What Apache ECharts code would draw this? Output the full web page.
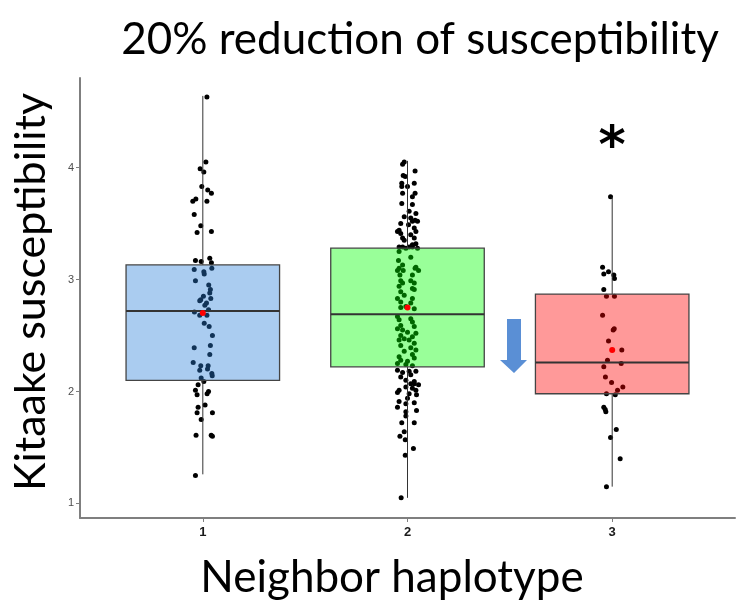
<!DOCTYPE html>
<html>
<head>
<meta charset="utf-8">
<script src="https://cdn.jsdelivr.net/npm/echarts@6/dist/echarts.min.js"></script>
<style>html,body{margin:0;padding:0;background:#fff}#c{width:741px;height:606px}</style>
</head>
<body>
<div id="c"></div>
<script>
// ---------- data ----------
const categories = ['1', '2', '3'];
const titleText = '20% reduction of susceptibility';
const yAxisTitle = 'Kitaake susceptibility';
const xAxisTitle = 'Neighbor haplotype';
const yTicks = [1, 2, 3, 4];

// box statistics per category
const whiskerLow  = [1.26, 1.05, 1.15];
const q1          = [2.10, 2.22, 1.98];
const median      = [2.72, 2.69, 2.26];
const q3          = [3.13, 3.28, 2.87];
const whiskerHigh = [4.64, 4.06, 3.74];
const means       = [2.70, 2.75, 2.37];

// jittered observations (value, horizontal jitter offset)
const g1Values = [4.63,4.05,3.99,3.96,3.83,3.80,3.77,3.70,3.72,3.70,3.58,3.48,3.42,3.43,3.17,3.16,3.19,3.15,3.09,3.07,3.10,2.99,3.05,2.95,2.91,2.88,2.85,2.83,2.82,2.81,2.79,2.77,2.73,2.71,2.68,2.68,2.61,2.58,2.50,2.41,2.39,2.33,2.26,2.23,2.23,2.19,2.20,2.16,2.14,2.12,2.09,2.06,2.01,2.00,1.97,1.98,1.88,1.86,1.81,1.81,1.75,1.61,1.61,1.60,1.25];
const g1Jitter = [0.020,0.015,-0.013,0.005,-0.005,0.024,0.042,-0.049,-0.034,0.020,-0.042,-0.010,-0.028,0.042,-0.036,-0.008,0.034,0.042,-0.042,0.005,0.044,-0.036,0.007,0.029,0.037,0.034,0.003,0.039,-0.010,-0.015,0.018,0.010,0.028,-0.041,-0.015,0.020,0.007,0.031,0.047,0.037,-0.042,0.034,-0.047,-0.010,0.026,-0.015,0.023,0.044,0.046,-0.008,0.005,-0.023,-0.036,0.028,-0.028,0.021,0.011,-0.023,-0.028,0.047,-0.008,-0.033,0.041,0.047,-0.036];

const g2Values = [4.05,4.03,3.97,3.93,3.92,3.86,3.86,3.83,3.83,3.77,3.77,3.74,3.68,3.67,3.59,3.61,3.56,3.55,3.53,3.52,3.50,3.52,3.49,3.44,3.46,3.43,3.41,3.43,3.40,3.37,3.35,3.37,3.32,3.31,3.29,3.29,3.29,3.28,3.28,3.29,3.25,3.20,3.17,3.13,3.11,3.10,
  3.08,3.08,3.10,3.08,3.04,3.04,2.99,2.99,2.97,2.97,2.94,2.92,2.89,2.86,2.91,2.83,2.83,2.80,2.79,2.76,2.75,2.74,2.67,2.64,2.65,2.62,2.59,2.58,2.56,2.55,2.53,2.50,2.52,2.49,2.47,2.46,2.46,2.43,2.41,2.39,2.37,2.36,2.31,2.33,2.28,2.27,2.30,2.25,2.24,2.23,2.19,2.17,2.18,2.18,2.13,2.15,2.10,2.09,
  2.04,2.07,2.07,2.06,2.03,2.01,2.01,1.99,1.98,1.97,1.94,1.91,1.90,1.89,1.86,1.83,1.82,1.78,1.72,1.72,1.64,1.60,1.57,1.49,1.43,1.05];
const g2Jitter = [-0.016,-0.024,0.037,-0.021,-0.011,-0.028,0.033,0.000,-0.028,-0.024,0.037,0.024,-0.028,0.024,0.041,0.008,-0.016,0.016,0.037,0.049,-0.033,0.024,0.005,-0.041,0.033,-0.049,-0.033,0.041,0.016,-0.024,-0.016,0.033,0.041,0.024,-0.041,0.008,-0.024,-0.008,0.049,0.024,-0.041,0.016,-0.044,-0.024,0.041,-0.041,
  -0.049,-0.021,0.037,0.054,-0.037,0.024,-0.033,0.016,0.033,-0.024,-0.041,0.024,-0.033,-0.016,0.033,-0.049,0.024,-0.033,0.016,-0.008,-0.033,0.033,-0.049,-0.041,0.016,0.024,-0.033,0.033,-0.049,-0.024,0.000,-0.033,0.041,0.024,-0.016,-0.041,0.008,0.033,-0.033,0.016,0.041,-0.016,-0.041,0.024,-0.033,0.000,0.033,-0.049,-0.008,0.024,-0.049,-0.024,0.008,0.041,-0.033,0.016,-0.008,0.033,
  -0.008,0.016,0.033,0.054,0.024,0.041,-0.041,-0.049,0.008,0.044,0.000,-0.041,0.033,-0.008,-0.049,0.044,-0.008,-0.008,-0.028,0.033,-0.016,-0.037,-0.011,0.029,-0.011,-0.031];

const g3Values = [3.74,3.11,3.07,3.05,3.04,3.01,2.91,2.85,2.85,2.68,2.56,2.55,2.45,2.37,2.28,2.25,2.22,2.13,2.08,2.04,2.01,1.98,1.97,1.86,1.82,1.84,1.66,1.59,1.40,1.15];
const g3Jitter = [-0.008,-0.047,-0.018,-0.041,0.008,0.011,-0.041,-0.028,0.011,-0.047,0.010,0.005,-0.018,0.047,-0.023,0.044,-0.041,-0.033,-0.003,0.052,0.026,-0.028,0.015,-0.041,-0.031,-0.034,0.020,-0.008,0.039,-0.028];

// ---------- build ----------
const groups = [[g1Values, g1Jitter], [g2Values, g2Jitter], [g3Values, g3Jitter]];
const pointData = [];
groups.forEach(function (g, i) {
  g[0].forEach(function (v, k) { pointData.push([i + 1 + g[1][k], v]); });
});
const boxData = categories.map(function (c, i) {
  return [i + 1, whiskerLow[i], q1[i], median[i], q3[i], whiskerHigh[i]];
});
const meanData = categories.map(function (c, i) { return [i + 1, means[i]]; });
const boxFill = ['rgba(42,128,218,0.4)', 'rgba(0,255,0,0.4)', 'rgba(255,0,0,0.4)'];
const tickPos = categories.map(function (c, i) { return i + 1; });

function renderBox(params, api) {
  const x = api.value(0);
  const lo = api.coord([x, api.value(1)]);
  const b = api.coord([x, api.value(2)]);
  const m = api.coord([x, api.value(3)]);
  const t = api.coord([x, api.value(4)]);
  const hi = api.coord([x, api.value(5)]);
  const hw = api.size([0.75, 0])[0] / 2;
  const ls = { stroke: '#333333', lineWidth: 1 };
  return {
    type: 'group',
    children: [
      { type: 'line', shape: { x1: hi[0], y1: hi[1], x2: t[0], y2: t[1] }, style: ls },
      { type: 'line', shape: { x1: b[0], y1: b[1], x2: lo[0], y2: lo[1] }, style: ls },
      { type: 'rect', shape: { x: t[0] - hw, y: t[1], width: hw * 2, height: b[1] - t[1] },
        style: { fill: boxFill[params.dataIndex], stroke: '#444444', lineWidth: 1.3 } },
      { type: 'line', shape: { x1: m[0] - hw, y1: m[1], x2: m[0] + hw, y2: m[1] },
        style: { stroke: '#333333', lineWidth: 2 } }
    ]
  };
}

const chart = echarts.init(document.getElementById('c'), null, { renderer: 'canvas' });
chart.setOption({
  animation: false,
  backgroundColor: '#ffffff',
  grid: { left: 80, right: 6, top: 78, bottom: 88, containLabel: false },
  xAxis: {
    type: 'value', min: 0.4, max: 3.6,
    splitLine: { show: false },
    axisLine: { show: true, lineStyle: { color: '#7f7f7f', width: 2 } },
    axisTick: { show: true, customValues: tickPos, length: 4, lineStyle: { color: '#7f7f7f', width: 1 } },
    axisLabel: { customValues: tickPos, color: '#1a1a1a', fontWeight: 'bold', fontSize: 13, margin: 8,
      fontFamily: 'Liberation Sans',
      formatter: function (v) { return categories[Math.round(v) - 1]; } }
  },
  yAxis: {
    type: 'value', min: 0.87, max: 4.8,
    splitLine: { show: false },
    axisLine: { show: true, lineStyle: { color: '#7f7f7f', width: 2 } },
    axisTick: { show: true, customValues: yTicks, length: 4, lineStyle: { color: '#7f7f7f', width: 1 } },
    axisLabel: { customValues: yTicks, color: '#4d4d4d', fontSize: 11, margin: 6, fontFamily: 'Liberation Sans' }
  },
  series: [
    { type: 'scatter', data: pointData, symbolSize: 5, itemStyle: { color: '#000000', opacity: 1 }, z: 2 },
    { type: 'custom', data: boxData, renderItem: renderBox, encode: { x: 0, y: [1, 2, 3, 4, 5] }, z: 3 },
    { type: 'scatter', data: meanData, symbolSize: 6, itemStyle: { color: '#ff0000', opacity: 1 }, z: 4 }
  ],
  graphic: [
    { type: 'text', x: 420, y: 40, style: { text: titleText, fill: '#000', fontFamily: 'Lato', fontSize: 44, textAlign: 'center', textVerticalAlign: 'middle' } },
    { type: 'text', x: 31, y: 292, rotation: Math.PI / 2, style: { text: yAxisTitle, fill: '#000', fontFamily: 'Lato', fontSize: 43, textAlign: 'center', textVerticalAlign: 'middle' } },
    { type: 'text', x: 392, y: 578, style: { text: xAxisTitle, fill: '#000', fontFamily: 'Lato', fontSize: 44, textAlign: 'center', textVerticalAlign: 'middle' } },
    { type: 'text', x: 612, y: 148, style: { text: '*', fill: '#000', fontFamily: 'DejaVu Sans', fontWeight: 'bold', fontSize: 52, textAlign: 'center', textVerticalAlign: 'middle' } },
    { type: 'polygon', shape: { points: [[507, 319], [521, 319], [521, 360], [527, 360], [514, 373], [500, 360], [507, 360]] },
      style: { fill: '#5a8fd5' } }
  ]
});
</script>
</body>
</html>
